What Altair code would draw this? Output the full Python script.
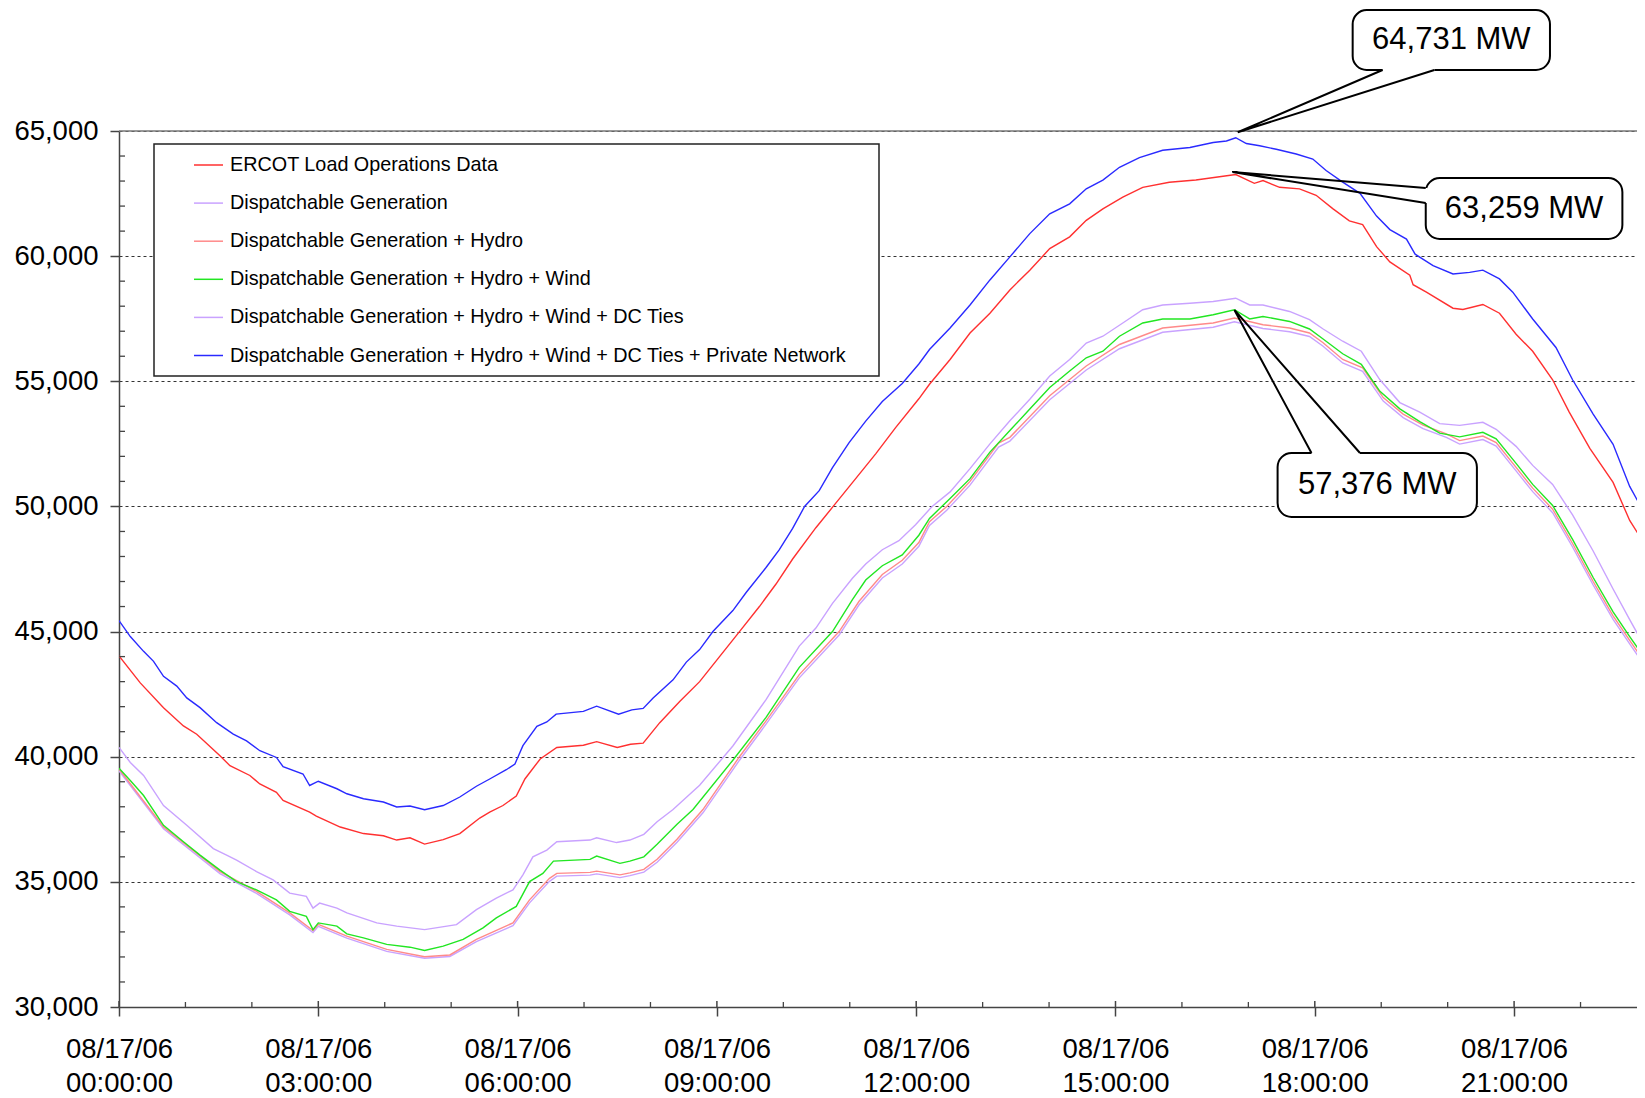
import altair as alt
import pandas as pd

# ---------------- data (hour of day, MW) ----------------
ercot = [(0,44030),(0.32,42950),(0.67,41960),(0.97,41230),(1.17,40900),(1.52,40040),(1.67,39640),(1.97,39250),
         (2.12,38910),(2.37,38580),(2.47,38250),(2.87,37790),(2.97,37630),(3.33,37190),(3.68,36930),(3.98,36840),
         (4.18,36670),(4.38,36760),(4.6,36510),(4.88,36690),(5.13,36930),(5.43,37550),(5.58,37790),(5.78,38050),
         (5.98,38430),(6.11,39110),(6.34,39910),(6.59,40370),(6.99,40460),(7.19,40600),(7.5,40370),(7.7,40500),
         (7.89,40540),(8.14,41360),(8.44,42210),(8.74,43000),(9.04,44000),(9.34,45000),(9.64,46000),(9.89,46900),
         (10.14,47900),(10.49,49150),(10.75,50000),(11.04,50950),(11.39,52100),(11.69,53150),(12.04,54300),
         (12.2,54880),(12.51,55870),(12.81,56930),(13.11,57720),(13.41,58650),(13.71,59440),(14.01,60300),
         (14.31,60770),(14.56,61430),(14.81,61890),(15.11,62360),(15.41,62750),(15.81,62950),(16.21,63040),
         (16.51,63150),(16.81,63259),(17.09,62910),(17.22,63020),(17.47,62750),(17.77,62690),(18.02,62430),
         (18.27,61900),(18.52,61410),(18.72,61260),(18.93,60380),(19.13,59770),(19.43,59240),(19.48,58860),
         (19.68,58560),(20.08,57920),(20.23,57870),(20.53,58070),(20.78,57720),(21.03,56880),(21.28,56200),
         (21.58,55060),(21.83,53770),(22.14,52320),(22.49,50960),(22.74,49440),(22.96,48520)]

dispatchable = [(0,39440),(0.67,37120),(1.52,35330),(2.07,34540),(2.57,33680),(2.92,32970),(3.0,33220),(3.43,32750),
                (4.03,32220),(4.6,31950),(4.98,32020),(5.38,32610),(5.93,33250),(6.18,34160),(6.48,35020),(6.59,35230),
                (7.09,35270),(7.19,35320),(7.54,35170),(7.69,35250),(7.9,35390),(8.1,35780),(8.4,36580),(8.79,37760),
                (9.34,39860),(9.74,41300),(10.24,43150),(10.84,44860),(11.14,46070),(11.49,47140),(11.79,47700),
                (12.04,48410),(12.2,49240),(12.46,49850),(12.81,50850),(13.24,52370),(13.41,52610),(14.01,54260),
                (14.56,55450),(15.06,56300),(15.71,56960),(16.47,57160),(16.79,57376),(17.22,57110),(17.62,56980),
                (17.92,56790),(18.12,56410),(18.42,55730),(18.72,55400),(19.03,54210),(19.33,53550),(19.63,53110),
                (19.98,52760),(20.18,52490),(20.53,52670),(20.73,52410),(21.03,51420),(21.28,50590),(21.58,49750),
                (21.88,48380),(22.19,46860),(22.49,45490),(22.74,44510),(22.96,43660)]

plus_hydro = [(0,39510),(0.67,37190),(1.52,35410),(2.07,34620),(2.57,33760),(2.92,33050),(3.0,33300),(3.43,32830),
              (4.03,32300),(4.6,32010),(4.98,32080),(5.38,32700),(5.93,33360),(6.18,34280),(6.48,35140),(6.59,35340),
              (7.09,35380),(7.19,35430),(7.54,35280),(7.69,35360),(7.9,35500),(8.1,35900),(8.4,36700),(8.79,37890),
              (9.34,40000),(9.74,41430),(10.24,43280),(10.84,45000),(11.14,46210),(11.49,47280),(11.79,47850),
              (12.04,48560),(12.2,49390),(12.46,50000),(12.81,51000),(13.24,52530),(13.41,52760),(14.01,54420),
              (14.56,55610),(15.06,56470),(15.71,57130),(16.47,57330),(16.79,57530),(17.22,57260),(17.62,57130),
              (17.92,56930),(18.12,56550),(18.42,55870),(18.72,55540),(19.03,54350),(19.33,53690),(19.63,53250),
              (19.98,52900),(20.18,52630),(20.53,52810),(20.73,52550),(21.03,51560),(21.28,50730),(21.58,49890),
              (21.88,48520),(22.19,47000),(22.49,45630),(22.74,44650),(22.96,43800)]

plus_wind = [(0,39540),(0.17,39050),(0.37,38450),(0.67,37260),(0.97,36600),(1.22,36070),(1.52,35470),(1.77,35010),
             (2.07,34680),(2.37,34280),(2.57,33820),(2.82,33620),(2.92,33090),(3.0,33360),(3.28,33230),(3.43,32920),
             (3.68,32760),(4.03,32500),(4.38,32390),(4.6,32260),(4.88,32430),(5.18,32700),(5.48,33160),(5.68,33560),
             (5.98,34020),(6.18,35010),(6.38,35340),(6.54,35830),(7.09,35900),(7.19,36030),(7.54,35740),(7.69,35830),
             (7.9,36000),(8.1,36500),(8.4,37300),(8.64,37890),(9.24,39860),(9.74,41570),(10.24,43570),(10.74,45000),
             (11.04,46280),(11.24,47060),(11.49,47630),(11.79,48060),(12.04,48850),(12.2,49520),(12.51,50320),
             (12.81,51110),(13.11,52170),(13.41,53030),(13.71,53890),(14.01,54750),(14.31,55410),(14.56,55940),
             (14.81,56200),(15.06,56800),(15.41,57330),(15.71,57490),(16.12,57490),(16.47,57660),(16.79,57860),
             (17.02,57490),(17.22,57590),(17.62,57390),(17.92,57090),(18.12,56700),(18.42,56100),(18.7,55680),
             (18.98,54600),(19.28,53900),(19.58,53390),(19.88,52930),(20.18,52780),(20.53,52960),(20.73,52700),
             (21.03,51720),(21.28,50880),(21.58,50040),(21.88,48680),(22.19,47160),(22.49,45790),(22.74,44800),
             (22.96,43960)]

plus_dc = [(0,40370),(0.17,39770),(0.37,39250),(0.67,38050),(1.02,37260),(1.42,36330),(1.62,36070),(1.77,35870),
           (2.07,35410),(2.32,35080),(2.57,34550),(2.82,34420),(2.92,33950),(3.02,34150),(3.28,33950),(3.43,33760),
           (3.88,33360),(4.18,33230),(4.6,33090),(5.08,33290),(5.38,33890),(5.68,34350),(5.93,34680),(6.08,35280),
           (6.23,36000),(6.44,36270),(6.59,36600),(7.09,36670),(7.19,36760),(7.49,36570),(7.69,36670),(7.9,36900),
           (8.1,37400),(8.34,37890),(8.74,38860),(9.24,40430),(9.74,42280),(10.24,44420),(10.49,45140),(10.74,46130),
           (11.04,47130),(11.24,47700),(11.49,48270),(11.74,48630),(11.99,49270),(12.24,50000),(12.51,50580),
           (12.81,51510),(13.11,52500),(13.41,53420),(13.71,54280),(14.01,55210),(14.31,55870),(14.56,56530),
           (14.81,56800),(15.11,57330),(15.41,57860),(15.71,58050),(16.12,58120),(16.47,58190),(16.81,58320),
           (17.02,58050),(17.22,58050),(17.62,57790),(17.92,57460),(18.12,57100),(18.42,56600),(18.7,56200),
           (18.98,55060),(19.28,54150),(19.58,53770),(19.88,53310),(20.18,53240),(20.53,53360),(20.73,53080),
           (21.03,52400),(21.28,51640),(21.58,50880),(21.88,49660),(22.19,48220),(22.49,46700),(22.74,45480),
           (22.96,44420)]

plus_private = [(0,45440),(0.17,44800),(0.37,44210),(0.52,43810),(0.67,43210),(0.87,42820),(1.02,42350),(1.22,41960),
                (1.47,41360),(1.72,40900),(1.92,40630),(2.12,40240),(2.37,39970),(2.47,39600),(2.77,39310),(2.87,38850),
                (3.0,39020),(3.28,38720),(3.43,38520),(3.68,38320),(3.98,38190),(4.18,37990),(4.38,38030),(4.6,37880),
                (4.88,38050),(5.13,38390),(5.38,38820),(5.58,39110),(5.83,39480),(5.96,39710),(6.08,40440),(6.29,41210),
                (6.44,41390),(6.58,41700),(6.99,41810),(7.19,42020),(7.52,41700),(7.72,41870),(7.89,41930),(8.04,42350),
                (8.34,43070),(8.54,43780),(8.74,44280),(8.94,45000),(9.24,45840),(9.44,46560),(9.74,47560),(9.94,48270),
                (10.14,49120),(10.32,50000),(10.54,50630),(10.74,51550),(10.99,52550),(11.24,53410),(11.49,54190),
                (11.79,54910),(12.04,55690),(12.2,56270),(12.51,57130),(12.81,58050),(13.11,59050),(13.41,59970),
                (13.71,60900),(14.01,61690),(14.31,62090),(14.56,62690),(14.81,63040),(15.06,63550),(15.36,63940),
                (15.71,64230),(16.12,64340),(16.47,64540),(16.67,64600),(16.81,64731),(16.97,64500),(17.17,64410),
                (17.42,64270),(17.72,64080),(17.97,63880),(18.17,63420),(18.42,62960),(18.68,62510),(18.93,61600),
                (19.13,61060),(19.38,60680),(19.51,60080),(19.78,59620),(20.08,59290),(20.33,59350),(20.53,59440),
                (20.78,59090),(20.98,58560),(21.28,57490),(21.63,56350),(21.88,55060),(22.19,53690),(22.49,52480),
                (22.74,50800),(22.96,49740)]

series_names = ["ERCOT Load Operations Data",
                "Dispatchable Generation",
                "Dispatchable Generation + Hydro",
                "Dispatchable Generation + Hydro + Wind",
                "Dispatchable Generation + Hydro + Wind + DC Ties",
                "Dispatchable Generation + Hydro + Wind + DC Ties + Private Network"]
series_colors = ["#ff3030", "#c9a2ff", "#ff8a8a", "#22e622", "#c9a2ff", "#2a2aff"]

x_tick_hours = [0, 3, 6, 9, 12, 15, 18, 21]
y_tick_values = [30000, 35000, 40000, 45000, 50000, 55000, 60000, 65000]

# callouts: label, pointer tip, box (hours / MW), pointer base points on the box edge
callout_text = ["64,731 MW", "63,259 MW", "57,376 MW"]
callout_tip = [(16.84, 64950), (16.76, 63360), (16.79, 57850)]
callout_box = [(18.57, 21.54, 69830, 67437), (19.67, 22.63, 63122, 60685), (17.44, 20.44, 52135, 49578)]
callout_base = [((19.02, 67437), (19.80, 67437)), ((19.67, 62723), (19.67, 62123)), ((17.95, 52135), (18.68, 52135))]

# ---------------- layout constants ----------------
W, H = 1518, 876
XMAX = 22.85
FONT = "Liberation Sans"
AX = "#444444"

# ---------------- tables ----------------
rows = []
for name, pts in zip(series_names, [ercot, dispatchable, plus_hydro, plus_wind, plus_dc, plus_private]):
    for i, (h, v) in enumerate(pts):
        rows.append({"series": name, "h": h, "mw": v, "i": i})
lines_df = pd.DataFrame(rows)

box_df = pd.DataFrame([{"h": b[0], "h2": b[1], "mw": b[2], "mw2": b[3]} for b in callout_box])
text_df = pd.DataFrame([{"h": (b[0] + b[1]) / 2, "mw": (b[2] + b[3]) / 2, "t": t}
                        for b, t in zip(callout_box, callout_text)])
cover_df = pd.DataFrame([{"h": a[0], "mw": a[1], "h2": c[0], "mw2": c[1]} for a, c in callout_base])
wedge_rows = []
for k, ((a, c), tip) in enumerate(zip(callout_base, callout_tip)):
    for j, p in enumerate([a, tip, c]):
        wedge_rows.append({"id": k, "j": j, "h": p[0], "mw": p[1]})
wedge_df = pd.DataFrame(wedge_rows)

ymin_df = pd.DataFrame({"mw": [v for v in range(31000, 65000, 1000) if v % 5000]})
xmin_df = pd.DataFrame({"h": [h for h in range(1, 23) if h % 3]})
xmaj_df = pd.DataFrame({"h": x_tick_hours})
top_df = pd.DataFrame({"mw": [65000]})
one_df = pd.DataFrame({"k": [0]})

xscale = alt.Scale(domain=[0, XMAX], nice=False, zero=False)
yscale = alt.Scale(domain=[30000, 65000], nice=False, zero=False)

x_axis = alt.Axis(values=x_tick_hours, title=None, grid=False, tickSize=9, tickWidth=1.5, tickColor=AX,
                  domainColor=AX, domainWidth=1.5, labelFont=FONT, labelFontSize=27.5, labelColor="black",
                  labelPadding=19, labelLineHeight=34, labelFlush=False, labelOverlap=False,
                  labelExpr="['08/17/06', (datum.value < 10 ? '0' : '') + datum.value + ':00:00']")
y_axis = alt.Axis(values=y_tick_values, format=",d", title=None, grid=True, gridDash=[3, 3], gridColor="#333333",
                  gridWidth=1, tickSize=9, tickWidth=1.5, tickColor=AX, domainColor=AX, domainWidth=1.5,
                  labelFont=FONT, labelFontSize=27.5, labelColor="black", labelPadding=12)

legend = alt.Legend(title=None, orient="none", legendX=74, legendY=18.5, symbolType="stroke", symbolSize=841,
                    symbolStrokeWidth=1.5, labelFont=FONT, labelFontSize=19.8, labelColor="black",
                    labelOffset=6, rowPadding=12.1, padding=0, labelLimit=900)

lines = alt.Chart(lines_df).mark_line(strokeWidth=1.4, clip=True).encode(
    x=alt.X("h:Q", scale=xscale, axis=x_axis),
    y=alt.Y("mw:Q", scale=yscale, axis=y_axis),
    color=alt.Color("series:N", scale=alt.Scale(domain=series_names, range=series_colors), legend=legend),
    order="i:Q",
)

top_rule = alt.Chart(top_df).mark_rule(color="#777777", strokeWidth=1.5).encode(y="mw:Q")

legend_box = alt.Chart(one_df).mark_rect(fill="white", stroke="#222222", strokeWidth=1.5).encode(
    x=alt.value(35), x2=alt.value(760), y=alt.value(13), y2=alt.value(245))

y_minor = alt.Chart(ymin_df).mark_rule(color=AX, strokeWidth=1.3).encode(
    y="mw:Q", x=alt.value(0), x2=alt.value(6))
x_minor = alt.Chart(xmin_df).mark_rule(color=AX, strokeWidth=1.3).encode(
    x="h:Q", y=alt.value(H - 5), y2=alt.value(H))
x_major_in = alt.Chart(xmaj_df).mark_rule(color=AX, strokeWidth=1.5).encode(
    x="h:Q", y=alt.value(H - 6), y2=alt.value(H))

boxes = alt.Chart(box_df).mark_rect(fill="white", stroke="black", strokeWidth=2, cornerRadius=14).encode(
    x="h:Q", x2="h2:Q", y="mw:Q", y2="mw2:Q")
covers = alt.Chart(cover_df).mark_rule(color="white", strokeWidth=4).encode(
    x="h:Q", x2="h2:Q", y="mw:Q", y2="mw2:Q")
wedges = alt.Chart(wedge_df).mark_line(color="black", strokeWidth=2, clip=False).encode(
    x="h:Q", y="mw:Q", detail="id:N", order="j:Q")
texts = alt.Chart(text_df).mark_text(font=FONT, fontSize=31, color="black", align="center",
                                     baseline="middle").encode(x="h:Q", y="mw:Q", text="t:N")

chart = alt.layer(
    top_rule, legend_box, lines, y_minor, x_minor, x_major_in, boxes, covers, wedges, texts
).properties(
    width=W, height=H,
    padding={"left": 111, "top": 123, "right": 0, "bottom": 90},
    autosize=alt.AutoSizeParams(type="none"),
    background="white",
).configure_view(strokeWidth=0)

chart.save("out.html", embed_options={"renderer": "svg", "actions": False})
